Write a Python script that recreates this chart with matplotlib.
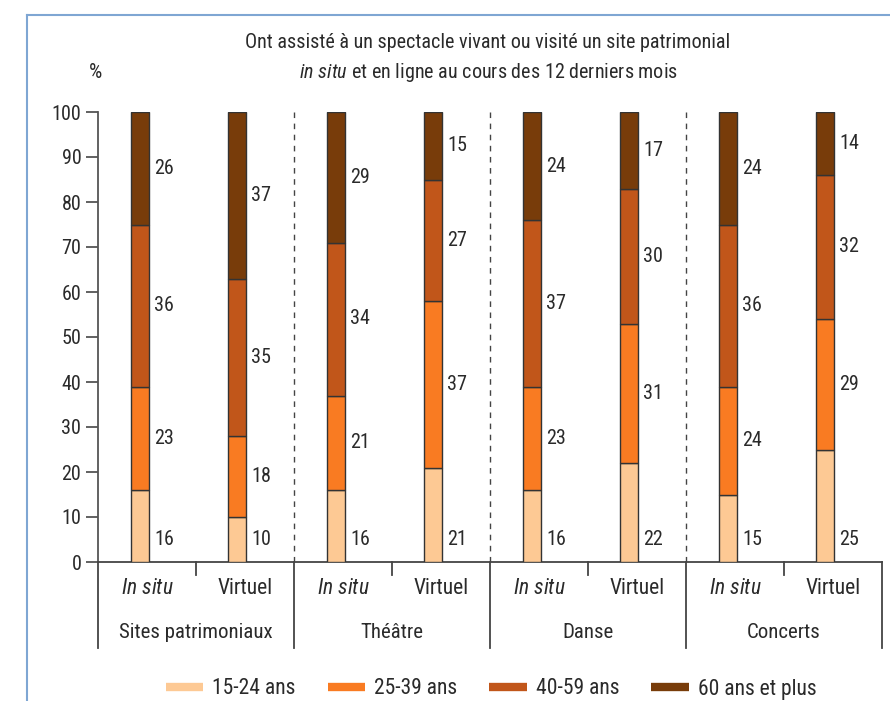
import matplotlib
matplotlib.use("Agg")
import matplotlib.pyplot as plt
from matplotlib.lines import Line2D
from matplotlib import font_manager as fm
import numpy as np

# ---------------- data ----------------
groups = ["Sites patrimoniaux", "Théâtre", "Danse", "Concerts"]
modes = ["In situ", "Virtuel"]
age_labels = ["15-24 ans", "25-39 ans", "40-59 ans", "60 ans et plus"]
# values per bar (In situ, Virtuel for each group), per age class
v_15_24 = [16, 10, 16, 21, 16, 22, 15, 25]
v_25_39 = [23, 18, 21, 37, 23, 31, 24, 29]
v_40_59 = [36, 35, 34, 27, 37, 30, 36, 32]
v_60p = [26, 37, 29, 15, 24, 17, 24, 14]
yticks = list(range(0, 101, 10))

colors = ["#FDC994", "#F97B22", "#C1561A", "#783C0A"]
txt = "#2a2a2a"

avail = {f.name for f in fm.fontManager.ttflist}
fam = None
for cand in ["Roboto Condensed", "DejaVu Sans Condensed", "Liberation Sans Narrow", "Roboto"]:
    if cand in avail:
        fam = cand
        break
plt.rcParams["font.family"] = [fam, "DejaVu Sans"]
plt.rcParams["mathtext.fontset"] = "custom"
plt.rcParams["mathtext.it"] = f"{fam}:italic"
plt.rcParams["mathtext.rm"] = fam

fig = plt.figure(figsize=(8.9, 7.01), dpi=100)
W, H = 890, 701
def fx(px): return px / W
def fy(py): return 1 - py / H

ax = fig.add_axes([fx(98), fy(562), fx(882) - fx(98), fy(112) - fy(562)])

series = [v_15_24, v_25_39, v_40_59, v_60p]
data = np.array(series, dtype=float)
# stacked to 100 %: the top class fills up to the 100 line
heights = data.copy()
heights[3] = 100 - data[:3].sum(axis=0)

nb = len(v_15_24)
xpos = []
for g in range(len(groups)):
    xpos += [2 * g + 0.43, 2 * g + 1.42]
xpos = np.array(xpos)
bw = 0.19

bottom = np.zeros(nb)
for k in range(4):
    ax.bar(xpos, heights[k], bw, bottom=bottom, color=colors[k],
           edgecolor="#333333", linewidth=1.0, zorder=3)
    for i in range(nb):
        if k == 0:
            yl = 5
        else:
            yl = bottom[i] + heights[k][i] / 2
        ax.text(xpos[i] + bw / 2 + 0.05, yl, f"{series[k][i]:d}", ha="left",
                va="center", fontsize=14.5, color=txt)
    bottom += heights[k]

ax.set_xlim(0, 8)
ax.set_ylim(0, 100)
ax.set_yticks(yticks)
ax.set_yticklabels([str(t) for t in yticks], fontsize=14.5, color=txt)
ax.tick_params(axis="y", length=9, width=1.3, color="#555555", pad=3)
ax.set_xticks([])
for s in ["top", "right"]:
    ax.spines[s].set_visible(False)
ax.spines["left"].set_color("#555555")
ax.spines["left"].set_linewidth(1.3)
ax.spines["bottom"].set_color("#444444")
ax.spines["bottom"].set_linewidth(1.3)

# dashed separators between groups
for g in range(1, len(groups)):
    ax.plot([2 * g, 2 * g], [0, 100], ls=(0, (4, 4)), color="#444444", lw=1.0, zorder=1)

# below-axis structure
trans = ax.get_xaxis_transform()
ybot = (562 - 648) / (562 - 112)
ymid = (562 - 575) / (562 - 112)
yrow1 = (562 - 588) / (562 - 112)
yrow2 = (562 - 633) / (562 - 112)
for g in range(len(groups) + 1):
    ax.plot([2 * g, 2 * g], [0, ybot], transform=trans, color="#444444", lw=1.3, clip_on=False)
for g in range(len(groups)):
    ax.plot([2 * g + 1, 2 * g + 1], [0, ymid], transform=trans, color="#444444", lw=1.3, clip_on=False)
    ax.text(2 * g + 0.5, yrow1, r"$\mathit{In\ situ}$", transform=trans, ha="center", va="center",
            fontsize=15.5, color=txt)
    ax.text(2 * g + 1.5, yrow1, modes[1], transform=trans, ha="center", va="center",
            fontsize=15.5, color=txt)
    ax.text(2 * g + 1, yrow2, groups[g], transform=trans, ha="center", va="center",
            fontsize=15, color=txt)

# title and unit
fig.text(fx(488), fy(42), "Ont assisté à un spectacle vivant ou visité un site patrimonial",
         ha="center", va="center", fontsize=14.5, color=txt)
fig.text(fx(488), fy(72), r"$\mathit{in\ situ}$ et en ligne au cours des 12 derniers mois",
         ha="center", va="center", fontsize=14.5, color=txt)
fig.text(fx(95), fy(72), "%", ha="center", va="center", fontsize=15, color=txt)

# legend
handles = [Line2D([0], [0], color=c, lw=6, solid_capstyle="butt") for c in colors]
fig.legend(handles, age_labels, loc="center", bbox_to_anchor=(fx(491), fy(689)), ncol=4,
           frameon=False, fontsize=15.5, handlelength=1.75, columnspacing=1.5, handletextpad=0.4,
           labelcolor=txt)

# blue frame
frame_c = "#7FA6D3"
fig.add_artist(Line2D([fx(27), fx(27)], [fy(15), 0], color=frame_c, lw=1.5))
fig.add_artist(Line2D([fx(27), 1], [fy(15), fy(15)], color=frame_c, lw=1.5))

fig.savefig("out.png", dpi=100)
